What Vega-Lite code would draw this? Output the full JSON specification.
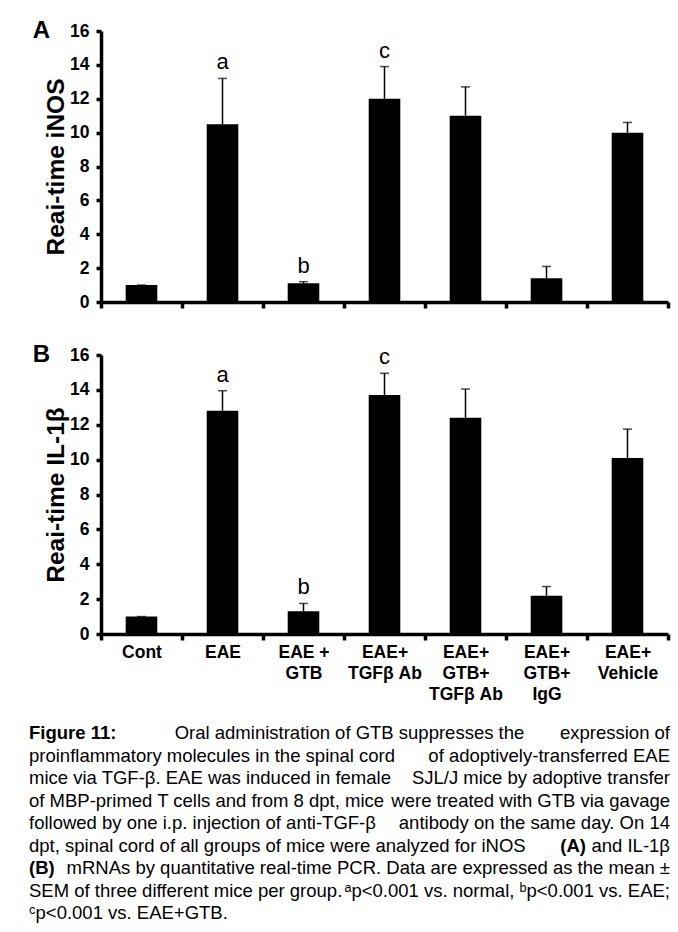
{
  "$schema": "https://vega.github.io/schema/vega-lite/v6.json",
  "background": "white",
  "padding": {"left": 29, "top": 19, "right": 0, "bottom": 0},
  "autosize": {"type": "pad"},
  "config": {
    "font": "Liberation Sans",
    "view": {"stroke": null},
    "axis": {
      "grid": false,
      "domainColor": "black",
      "domainWidth": 3.5,
      "tickColor": "black",
      "tickWidth": 3.5,
      "tickSize": 5,
      "labelFont": "Liberation Sans",
      "labelFontWeight": "bold",
      "labelFontSize": 17.5,
      "labelColor": "black",
      "labelOverlap": false,
      "titleFont": "Liberation Sans",
      "titleFontWeight": "bold",
      "titleFontSize": 24.5,
      "titleColor": "black"
    }
  },
  "datasets": {
    "inos": [
      {"group": "Cont", "mean": 1.0, "err_top": 1.0, "letter": ""},
      {"group": "EAE", "mean": 10.5, "err_top": 13.2, "letter": "a"},
      {"group": "EAE +|GTB", "mean": 1.1, "err_top": 1.2, "letter": "b"},
      {"group": "EAE+|TGFβ Ab", "mean": 12.0, "err_top": 13.9, "letter": "c"},
      {"group": "EAE+|GTB+|TGFβ Ab", "mean": 11.0, "err_top": 12.7, "letter": ""},
      {"group": "EAE+|GTB+|IgG", "mean": 1.4, "err_top": 2.1, "letter": ""},
      {"group": "EAE+|Vehicle", "mean": 10.0, "err_top": 10.6, "letter": ""}
    ],
    "il1b": [
      {"group": "Cont", "mean": 1.0, "err_top": 1.0, "letter": ""},
      {"group": "EAE", "mean": 12.8, "err_top": 13.95, "letter": "a"},
      {"group": "EAE +|GTB", "mean": 1.3, "err_top": 1.75, "letter": "b"},
      {"group": "EAE+|TGFβ Ab", "mean": 13.7, "err_top": 14.95, "letter": "c"},
      {"group": "EAE+|GTB+|TGFβ Ab", "mean": 12.4, "err_top": 14.05, "letter": ""},
      {"group": "EAE+|GTB+|IgG", "mean": 2.2, "err_top": 2.72, "letter": ""},
      {"group": "EAE+|Vehicle", "mean": 10.1, "err_top": 11.75, "letter": ""}
    ],
    "caption": [
      {"line": 1, "side": "left", "emph": true, "text": "Figure 11:"},
      {"line": 1, "side": "center", "emph": false, "text": "Oral administration of GTB suppresses the"},
      {"line": 1, "side": "right", "emph": false, "text": "expression of"},
      {"line": 2, "side": "left", "emph": false, "text": "proinflammatory molecules in the spinal cord"},
      {"line": 2, "side": "right", "emph": false, "text": "of adoptively-transferred EAE"},
      {"line": 3, "side": "left", "emph": false, "text": "mice via TGF-β. EAE was induced in female"},
      {"line": 3, "side": "right", "emph": false, "text": "SJL/J mice by adoptive transfer"},
      {"line": 4, "side": "left", "emph": false, "text": "of MBP-primed T cells and from 8 dpt, mice"},
      {"line": 4, "side": "right", "emph": false, "text": "were treated with GTB via gavage"},
      {"line": 5, "side": "left", "emph": false, "text": "followed by one i.p. injection of anti-TGF-β"},
      {"line": 5, "side": "right", "emph": false, "text": "antibody on the same day. On 14"},
      {"line": 6, "side": "left", "emph": false, "text": "dpt, spinal cord of all groups of mice were analyzed for iNOS"},
      {"line": 6, "side": "right", "emph": true, "text": "(A)"},
      {"line": 6, "side": "right", "emph": false, "text": "and IL-1β"},
      {"line": 7, "side": "left", "emph": true, "text": "(B)"},
      {"line": 7, "side": "right", "emph": false, "text": "mRNAs by quantitative real-time PCR. Data are expressed as the mean ±"},
      {"line": 8, "side": "left", "emph": false, "text": "SEM of three different mice per group."},
      {"line": 8, "side": "right", "emph": false, "text": "ᵃp<0.001 vs. normal, ᵇp<0.001 vs. EAE;"},
      {"line": 9, "side": "left", "emph": false, "text": "ᶜp<0.001 vs. EAE+GTB."}
    ]
  },
  "vconcat": [
    {
      "vconcat": [
        {
          "width": 567,
          "height": 271,
          "title": {"text": "A", "orient": "left", "anchor": "end", "frame": "group", "angle": 0, "align": "right", "baseline": "middle", "fontSize": 24, "fontWeight": "bold", "color": "black", "offset": -24},
          "data": {"name": "inos"},
          "encoding": {
            "x": {"field": "group", "type": "nominal", "sort": null,
                  "scale": {"paddingInner": 0, "paddingOuter": 0},
                  "axis": {"labels": false, "title": null, "tickBand": "extent", "tickSize": 6}}
          },
          "layer": [
            {"mark": {"type": "rule", "color": "black", "strokeWidth": 1.5},
             "encoding": {"y": {"field": "mean", "type": "quantitative", "scale": {"domain": [0, 16]},
                                "axis": {"values": [0, 2, 4, 6, 8, 10, 12, 14, 16], "tickCount": 9, "labelOverlap": false, "title": "Reai-time iNOS", "labelPadding": 7, "titlePadding": 1}},
                          "y2": {"field": "err_top"}}},
            {"mark": {"type": "tick", "orient": "horizontal", "color": "black", "size": 9, "thickness": 1.5},
             "encoding": {"y": {"field": "err_top", "type": "quantitative", "scale": {"domain": [0, 16]},
                                "axis": {"values": [0, 2, 4, 6, 8, 10, 12, 14, 16], "tickCount": 9, "labelOverlap": false, "title": "Reai-time iNOS", "labelPadding": 7, "titlePadding": 1}}}},
            {"mark": {"type": "bar", "color": "black", "width": {"band": 0.39}},
             "encoding": {"y": {"field": "mean", "type": "quantitative", "scale": {"domain": [0, 16]},
                                "axis": {"values": [0, 2, 4, 6, 8, 10, 12, 14, 16], "tickCount": 9, "labelOverlap": false, "title": "Reai-time iNOS", "labelPadding": 7, "titlePadding": 1}}}},
            {"mark": {"type": "text", "baseline": "bottom", "dy": -4, "fontSize": 22, "color": "black"},
             "encoding": {"y": {"field": "err_top", "type": "quantitative", "scale": {"domain": [0, 16]},
                                "axis": {"values": [0, 2, 4, 6, 8, 10, 12, 14, 16], "tickCount": 9, "labelOverlap": false, "title": "Reai-time iNOS", "labelPadding": 7, "titlePadding": 1}},
                          "text": {"field": "letter"}}}
          ]
        },
        {
          "width": 567,
          "height": 279,
          "title": {"text": "B", "orient": "left", "anchor": "end", "frame": "group", "angle": 0, "align": "right", "baseline": "middle", "fontSize": 24, "fontWeight": "bold", "color": "black", "offset": -24},
          "data": {"name": "il1b"},
          "encoding": {
            "x": {"field": "group", "type": "nominal", "sort": null,
                  "scale": {"paddingInner": 0, "paddingOuter": 0},
                  "axis": {"title": null, "tickBand": "extent", "tickSize": 6, "labelAngle": 0,
                           "labelExpr": "split(datum.label, '|')", "labelLineHeight": 21,
                           "labelBaseline": "top", "labelPadding": 3, "labelAlign": "center"}}
          },
          "layer": [
            {"mark": {"type": "rule", "color": "black", "strokeWidth": 1.5},
             "encoding": {"y": {"field": "mean", "type": "quantitative", "scale": {"domain": [0, 16]},
                                "axis": {"values": [0, 2, 4, 6, 8, 10, 12, 14, 16], "tickCount": 9, "labelOverlap": false, "title": "Reai-time IL-1β", "labelPadding": 7, "titlePadding": 1}},
                          "y2": {"field": "err_top"}}},
            {"mark": {"type": "tick", "orient": "horizontal", "color": "black", "size": 9, "thickness": 1.5},
             "encoding": {"y": {"field": "err_top", "type": "quantitative", "scale": {"domain": [0, 16]},
                                "axis": {"values": [0, 2, 4, 6, 8, 10, 12, 14, 16], "tickCount": 9, "labelOverlap": false, "title": "Reai-time IL-1β", "labelPadding": 7, "titlePadding": 1}}}},
            {"mark": {"type": "bar", "color": "black", "width": {"band": 0.39}},
             "encoding": {"y": {"field": "mean", "type": "quantitative", "scale": {"domain": [0, 16]},
                                "axis": {"values": [0, 2, 4, 6, 8, 10, 12, 14, 16], "tickCount": 9, "labelOverlap": false, "title": "Reai-time IL-1β", "labelPadding": 7, "titlePadding": 1}}}},
            {"mark": {"type": "text", "baseline": "bottom", "dy": -4, "fontSize": 22, "color": "black"},
             "encoding": {"y": {"field": "err_top", "type": "quantitative", "scale": {"domain": [0, 16]},
                                "axis": {"values": [0, 2, 4, 6, 8, 10, 12, 14, 16], "tickCount": 9, "labelOverlap": false, "title": "Reai-time IL-1β", "labelPadding": 7, "titlePadding": 1}},
                          "text": {"field": "letter"}}}
          ]
        }
      ],
      "spacing": 32
    },
    {
      "width": 641,
      "height": 180,
      "data": {"name": "caption"},
      "encoding": {
        "x": {"field": "side", "type": "nominal", "scale": {"type": "point", "domain": ["left", "center", "right"], "padding": 0, "range": [-72, 569]}, "axis": null},
        "y": {"field": "line", "type": "ordinal", "scale": {"type": "point", "padding": 0}, "axis": null},
        "text": {"field": "text"}
      },
      "layer": [
        {"transform": [{"filter": "!datum.emph && datum.side == 'left'"}],
         "mark": {"type": "text", "align": "left", "baseline": "middle", "fontSize": 18.5, "color": "black"}},
        {"transform": [{"filter": "!datum.emph && datum.side == 'center'"}],
         "mark": {"type": "text", "align": "center", "baseline": "middle", "fontSize": 18.5, "color": "black"}},
        {"transform": [{"filter": "!datum.emph && datum.side == 'right'"}],
         "mark": {"type": "text", "align": "right", "baseline": "middle", "fontSize": 18.5, "color": "black"}},
        {"transform": [{"filter": "datum.emph && datum.side == 'left'"}],
         "mark": {"type": "text", "align": "left", "baseline": "middle", "fontSize": 18.5, "fontWeight": "bold", "color": "black"}},
        {"transform": [{"filter": "datum.emph && datum.side == 'right'"}],
         "mark": {"type": "text", "align": "right", "baseline": "middle", "fontSize": 18.5, "fontWeight": "bold", "color": "black", "dx": -84}}
      ]
    }
  ],
  "spacing": 21
}
